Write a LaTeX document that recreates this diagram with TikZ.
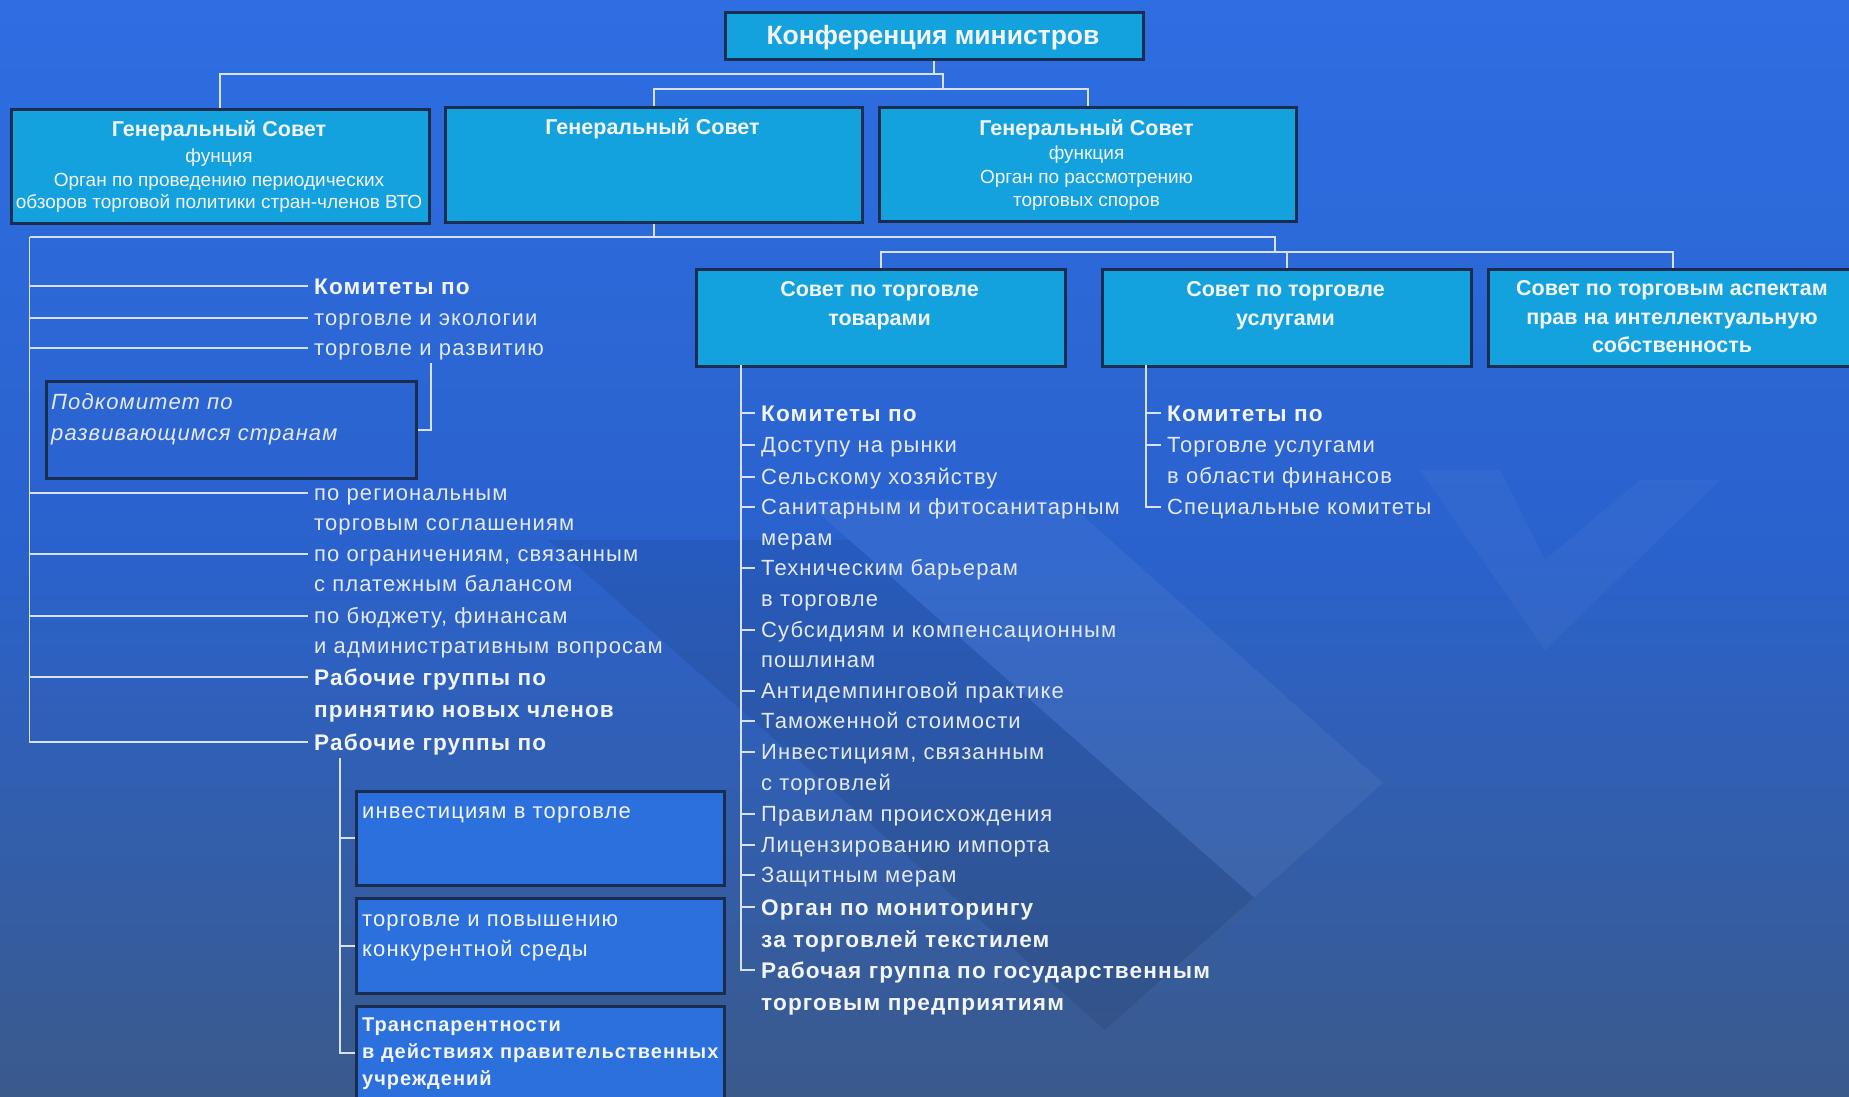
\documentclass[tikz,border=0pt]{standalone}
\usepackage{fontspec}
\setmainfont{Liberation Sans}
\newfontfamily\lstf[LetterSpace=5]{Liberation Sans}
\usetikzlibrary{calc}
\definecolor{bgTop}{RGB}{46,110,226}
\definecolor{bgMid}{RGB}{42,98,205}
\definecolor{bgBot}{RGB}{58,90,140}
\definecolor{boxC}{RGB}{20,162,222}
\definecolor{wgC}{RGB}{43,112,220}
\definecolor{edgeC}{RGB}{25,45,80}
\definecolor{lineC}{RGB}{215,225,240}
\definecolor{txtC}{RGB}{242,244,248}
\definecolor{lstC}{RGB}{228,233,242}
\tikzset{
  box/.style={draw=edgeC, line width=2.5pt, fill=boxC, inner sep=0pt, anchor=north west},
  wgbox/.style={box, fill=wgC},
  subbox/.style={draw=edgeC, line width=2.5pt, inner sep=0pt, anchor=north west},
  headT/.style={text=txtC, font=\fontsize{21.5}{26}\selectfont\bfseries, text height=15.4pt, text depth=0pt, inner sep=0pt, anchor=center},
  titleT/.style={headT, font=\fontsize{26.5}{30}\selectfont\bfseries, text height=19pt},
  smallT/.style={text=txtC, font=\fontsize{19}{22}\selectfont, text height=13.6pt, text depth=0pt, inner sep=0pt, anchor=center},
  lst/.style={text=lstC, font=\lstf\fontsize{22}{26}\selectfont, anchor=west, inner xsep=6pt, inner ysep=0pt, text height=15.75pt, text depth=0pt},
  lstb/.style={lst, text=txtC, font=\lstf\fontsize{22.6}{26}\selectfont\bfseries, text height=16.2pt},
  lsti/.style={lst, font=\lstf\fontsize{22}{26}\selectfont\itshape},
  wgb/.style={lst, text=txtC, font=\lstf\fontsize{20}{24}\selectfont\bfseries, text height=14.3pt},
  conn/.style={draw=lineC, line width=1.6pt}
}
\begin{document}
\begin{tikzpicture}[x=1pt,y=-1pt]
\useasboundingbox (0,0) rectangle (1849,1096);
\clip (0,0) rectangle (1849,1096);
\shade[top color=bgTop, bottom color=bgBot, middle color=bgMid] (0,0) rectangle (1849,1096);
% watermark
\fill[black, opacity=0.08] (548,540) -- (849,540) -- (1257,900) -- (1105,1030) -- cycle;
\fill[white, opacity=0.05] (804,500) -- (1065,500) -- (1383,783) -- (1105,1030) -- (1257,900) -- cycle;
\fill[white, opacity=0.035] (1420,470) -- (1500,470) -- (1545,560) -- (1640,480) -- (1720,480) -- (1545,650) -- cycle;

% top box
\node[box, minimum width=418pt, minimum height=47pt] (conf) at (724,11) {};
\node[titleT] (confT) at (933,34.5) {Конференция министров};

% general council boxes
\node[box, minimum width=418pt, minimum height=114pt] (gs1) at (10,108) {};
\node[box, minimum width=417pt, minimum height=115pt] (gs2) at (444,106) {};
\node[box, minimum width=417pt, minimum height=114pt] (gs3) at (878,106) {};
\node[headT] (gs1a) at (219,129) {Генеральный Совет};
\node[smallT] (gs1b) at (219,156) {фунция};
\node[smallT] (gs1c) at (219,180) {Орган по проведению периодических};
\node[smallT] (gs1d) at (219,202) {обзоров торговой политики стран-членов ВТО};
\node[headT] (gs2a) at (652.5,127) {Генеральный Совет};
\node[headT] (gs3a) at (1086.5,128) {Генеральный Совет};
\node[smallT] (gs3b) at (1086.5,153) {функция};
\node[smallT] (gs3c) at (1086.5,177) {Орган по рассмотрению};
\node[smallT] (gs3d) at (1086.5,200) {торговых споров};

\coordinate (j1) at (943,74);
\coordinate (j2) at (943,89);
\draw[conn] (conf.south) -- (conf.south |- j1);
\draw[conn] (gs1.north) |- (j1) -- (j2);
\draw[conn] (gs2.north) |- (j2) -| (gs3.north);

% councils
\node[box, minimum width=369pt, minimum height=97pt] (c1) at (695,268) {};
\node[box, minimum width=369pt, minimum height=97pt] (c2) at (1101,268) {};
\node[box, minimum width=370pt, minimum height=97pt] (c3) at (1487,268) {};
\node[headT] (c1a) at (879.5,289) {Совет по торговле};
\node[headT] (c1b) at (879.5,318) {товарами};
\node[headT] (c2a) at (1285.5,289) {Совет по торговле};
\node[headT] (c2b) at (1285.5,318) {услугами};
\node[headT] (c3a) at (1672,288) {Совет по торговым аспектам};
\node[headT] (c3b) at (1672,317) {прав на интеллектуальную};
\node[headT] (c3c) at (1672,345) {собственность};

\coordinate (j3) at (29.5,237);
\coordinate (j4) at (1275,237);
\coordinate (j5) at (1275,252);
\draw[conn] (gs2.south) -- (gs2.south |- j3);
\draw[conn] (j3) -- (j4) -- (j5);
\draw[conn] (c1.north) |- (c3.north |- j5) -- (c3.north);
\draw[conn] (c2.north) -- (c2.north |- j5);

% left column
\node[lstb] (L1) at (308,286) {Комитеты по};
\node[lst] (L2) at (308,318) {торговле и экологии};
\node[lst] (L3) at (308,348) {торговле и развитию};
\node[lst] (L4) at (308,493) {по региональным};
\node[lst] (L5) at (308,523) {торговым соглашениям};
\node[lst] (L6) at (308,554) {по ограничениям, связанным};
\node[lst] (L7) at (308,584) {с платежным балансом};
\node[lst] (L8) at (308,616) {по бюджету, финансам};
\node[lst] (L9) at (308,646) {и административным вопросам};
\node[lstb] (L10) at (308,677) {Рабочие группы по};
\node[lstb] (L11) at (308,709) {принятию новых членов};
\node[lstb] (L12) at (308,742) {Рабочие группы по};
\draw[conn] (j3) |- (L12.west);
\foreach \k in {1,2,3,4,6,8,10} \draw[conn] (j3 |- L\k.west) -- (L\k.west);

% subcommittee
\node[subbox, minimum width=370pt, minimum height=97pt] (sub) at (45,380) {};
\node[lsti] (sub1) at (45,402) {Подкомитет по};
\node[lsti] (sub2) at (45,433) {развивающимся странам};
\coordinate (sb) at (431,363);
\draw[conn] (sb) |- (sub.east);

% working groups
\node[wgbox, minimum width=368pt, minimum height=94pt] (wg1) at (355,790) {};
\node[wgbox, minimum width=368pt, minimum height=95pt] (wg2) at (355,897) {};
\node[wgbox, minimum width=368pt, minimum height=94pt] (wg3) at (355,1005) {};
\node[lst, text=txtC] (wg1a) at (356,811) {инвестициям в торговле};
\node[lst, text=txtC] (wg2a) at (356,919) {торговле и повышению};
\node[lst, text=txtC] (wg2b) at (356,949) {конкурентной среды};
\node[wgb] (wg3a) at (356,1024) {Транспарентности};
\node[wgb] (wg3b) at (356,1051) {в действиях правительственных};
\node[wgb] (wg3c) at (356,1078) {учреждений};
\coordinate (wgtop) at (340,758);
\draw[conn] (wgtop) |- (wg3.west);
\draw[conn] (wgtop |- wg1.west) -- (wg1.west);
\draw[conn] (wgtop |- wg2.west) -- (wg2.west);

% goods column
\node[lstb] (G0) at (755,413) {Комитеты по};
\node[lst] (G1) at (755,445) {Доступу на рынки};
\node[lst] (G2) at (755,477) {Сельскому хозяйству};
\node[lst] (G3) at (755,507) {Санитарным и фитосанитарным};
\node[lst] (G4) at (755,538) {мерам};
\node[lst] (G5) at (755,568) {Техническим барьерам};
\node[lst] (G6) at (755,599) {в торговле};
\node[lst] (G7) at (755,630) {Субсидиям и компенсационным};
\node[lst] (G8) at (755,660) {пошлинам};
\node[lst] (G9) at (755,691) {Антидемпинговой практике};
\node[lst] (G10) at (755,721) {Таможенной стоимости};
\node[lst] (G11) at (755,752) {Инвестициям, связанным};
\node[lst] (G12) at (755,783) {с торговлей};
\node[lst] (G13) at (755,814) {Правилам происхождения};
\node[lst] (G14) at (755,845) {Лицензированию импорта};
\node[lst] (G15) at (755,875) {Защитным мерам};
\node[lstb] (G16) at (755,907) {Орган по мониторингу};
\node[lstb] (G17) at (755,939) {за торговлей текстилем};
\node[lstb] (G18) at (755,970) {Рабочая группа по государственным};
\node[lstb] (G19) at (755,1002) {торговым предприятиям};
\coordinate (v1) at (741,365);
\draw[conn] (v1) |- (G18.west);
\foreach \k in {0,1,2,3,5,7,9,10,11,13,14,15,16} \draw[conn] (v1 |- G\k.west) -- (G\k.west);

% services column
\node[lstb] (S0) at (1161,413) {Комитеты по};
\node[lst] (S1) at (1161,445) {Торговле услугами};
\node[lst] (S2) at (1161,476) {в области финансов};
\node[lst] (S3) at (1161,507) {Специальные комитеты};
\coordinate (v2) at (1146,365);
\draw[conn] (v2) |- (S3.west);
\foreach \k in {0,1} \draw[conn] (v2 |- S\k.west) -- (S\k.west);
\end{tikzpicture}
\end{document}
